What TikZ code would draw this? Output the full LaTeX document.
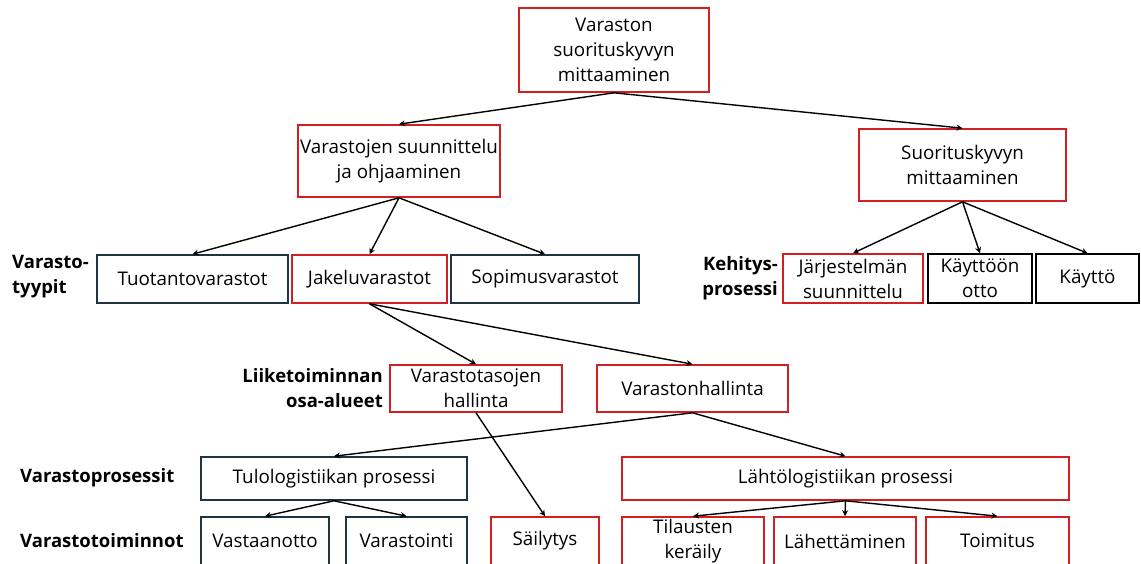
\documentclass[tikz,border=0pt]{standalone}
\usepackage{fontspec}
\setmainfont{Open Sans}
\usetikzlibrary{arrows.meta}
\definecolor{boxred}{RGB}{208,32,36}
\definecolor{boxslate}{RGB}{30,52,66}
\begin{document}
\begin{tikzpicture}[x=1pt,y=-1pt,
  every node/.style={inner sep=0pt, align=center, font=\fontsize{18.8}{25}\selectfont},
  box/.style={draw, line width=1.6pt, rectangle, minimum width=#1},
  redbox/.style={box=#1, draw=boxred},
  slatebox/.style={box=#1, draw=boxslate},
  blackbox/.style={box=#1, draw=black},
  rowlabel/.style={font=\fontsize{18.5}{25}\selectfont\bfseries},
  link/.style={-{Stealth[length=6pt,width=6pt]}, line width=1.4pt, black}]
\useasboundingbox (0,0) rectangle (1141,563);
\clip (0,0) rectangle (1141,563);

% level 1 and 2
\node[redbox=190, minimum height=84] (top) at (614,50) {Varaston\\suorituskyvyn\\mittaaminen};
\node[redbox=202, minimum height=72] (plan) at (399,161) {Varastojen suunnittelu\\ja ohjaaminen};
\node[redbox=207, minimum height=72] (perf) at (962.5,165) {Suorituskyvyn\\mittaaminen};

% warehouse types
\node[slatebox=191, minimum height=48] (tuot) at (192.5,279) {Tuotantovarastot};
\node[redbox=155, minimum height=48] (jake) at (369.5,279) {Jakeluvarastot};
\node[slatebox=188, minimum height=48] (sopi) at (545,279) {Sopimusvarastot};

% development process
\node[redbox=140, minimum height=49] (jarj) at (853,278.5) {Järjestelmän\\suunnittelu};
\node[blackbox=104, minimum height=49] (kayo) at (980,278.5) {Käyttöön\\otto};
\node[blackbox=103, minimum height=49] (kayt) at (1087.5,278.5) {Käyttö};

% business areas
\node[redbox=172, minimum height=47] (vtas) at (476,388.5) {Varastotasojen\\hallinta};
\node[redbox=191, minimum height=47] (vhal) at (692.5,388.5) {Varastonhallinta};

% warehouse processes
\node[slatebox=266, minimum height=43] (tulo) at (334,478.5) {Tulologistiikan prosessi};
\node[redbox=447, minimum height=43] (lahto) at (845.5,478.5) {Lähtölogistiikan prosessi};

% warehouse operations
\node[slatebox=128, minimum height=48] (vast) at (265,541) {Vastaanotto};
\node[slatebox=121, minimum height=48] (vari) at (406.5,541) {Varastointi};
\node[redbox=108, minimum height=48] (sail) at (545,541) {Säilytys};
\node[redbox=142, minimum height=48] (tila) at (693,541) {Tilausten\\keräily};
\node[redbox=142, minimum height=48] (lahe) at (845,541) {Lähettäminen};
\node[redbox=143, minimum height=48] (toim) at (997.5,541) {Toimitus};

% row labels
\node[rowlabel, anchor=west, align=left] (lbtyyp) at (12,277) {Varasto-\\tyypit};
\node[rowlabel, anchor=east, align=right] (lbkeh) at (778,278) {Kehitys-\\prosessi};
\node[rowlabel, anchor=east, align=right] (lbliik) at (383,388) {Liiketoiminnan\\osa-alueet};
\node[rowlabel, anchor=west] (lbproc) at (20,478) {Varastoprosessit};
\node[rowlabel, anchor=west] (lbtoim) at (20,541) {Varastotoiminnot};

% connectors
\draw[link] (top.south) -- (plan.north);
\draw[link] (top.south) -- (perf.north);
\draw[link] (plan.south) -- (tuot.north);
\draw[link] (plan.south) -- (jake.north);
\draw[link] (plan.south) -- (sopi.north);
\draw[link] (perf.south) -- (jarj.north);
\draw[link] (perf.south) -- (kayo.north);
\draw[link] (perf.south) -- (kayt.north);
\draw[link] (jake.south) -- (vtas.north);
\draw[link] (jake.south) -- (vhal.north);
\draw[link] (vhal.south) -- (tulo.north);
\draw[link] (vhal.south) -- (lahto.north);
\draw[link] (vtas.south) -- (sail.north);
\draw[link] (tulo.south) -- (vast.north);
\draw[link] (tulo.south) -- (vari.north);
\draw[link] (lahto.south) -- (tila.north);
\draw[link] (lahto.south) -- (lahe.north);
\draw[link] (lahto.south) -- (toim.north);
\end{tikzpicture}
\end{document}
